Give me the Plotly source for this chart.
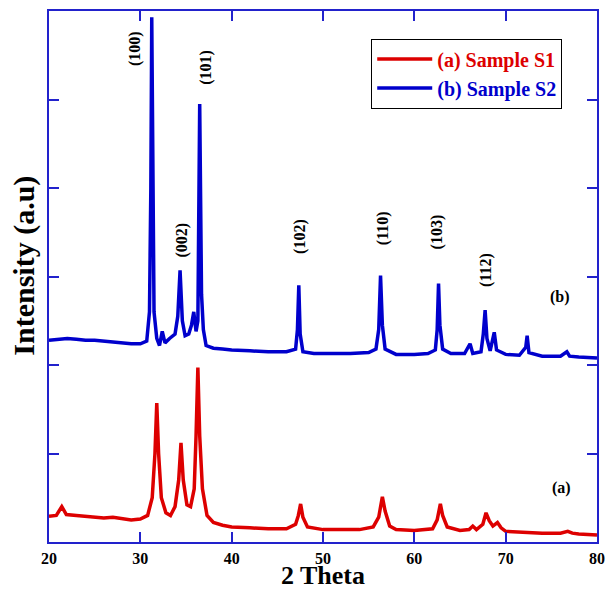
import plotly.graph_objects as go

# Sample S1 (a)
x_a = [20.0, 20.8, 21.4, 21.9, 23, 24, 25, 26, 27, 28, 29, 30, 30.8, 31.3, 31.6, 31.8, 32.0, 32.3, 32.8, 33.3,
       33.8, 34.2, 34.45, 34.7, 35.1, 35.5, 35.9, 36.1, 36.3, 36.5, 36.8, 37.3, 38, 39, 40, 42, 44, 46,
       47.0, 47.3, 47.55, 47.8, 48.3, 50, 52, 54, 55.5, 56.1, 56.5, 56.8, 57.3, 58, 60, 62, 62.5, 62.85,
       63.1, 63.6, 65, 66.0, 66.4, 66.8, 67.5, 67.85, 68.2, 68.6, 69.1, 69.5, 70, 72, 74, 76, 76.8, 77.3, 78, 80]
y_a = [0.29, 0.30, 0.40, 0.31, 0.30, 0.29, 0.28, 0.27, 0.28, 0.26, 0.25, 0.26, 0.30, 0.50, 1.0, 1.57, 1.0, 0.50, 0.33, 0.30,
       0.40, 0.70, 1.12, 0.70, 0.42, 0.40, 0.60, 1.2, 1.97, 1.2, 0.60, 0.30, 0.22, 0.19, 0.17, 0.16, 0.15, 0.15,
       0.20, 0.30, 0.43, 0.28, 0.17, 0.14, 0.14, 0.14, 0.17, 0.28, 0.51, 0.35, 0.18, 0.14, 0.13, 0.15, 0.25, 0.43,
       0.30, 0.17, 0.13, 0.14, 0.18, 0.14, 0.20, 0.33, 0.24, 0.18, 0.22, 0.16, 0.12, 0.11, 0.10, 0.10, 0.12, 0.10, 0.09, 0.08]

# Sample S2 (b)
x_b = [20, 21, 22, 23, 24, 25, 26, 27, 28, 29, 30, 30.7, 31.0, 31.15, 31.25, 31.4, 31.5, 31.8, 32.1, 32.4, 32.7,
       33.2, 33.8, 34.1, 34.35, 34.6, 34.9, 35.3, 35.6, 35.85, 36.1, 36.3, 36.5, 36.7, 36.9, 37.2, 38, 39, 40,
       42, 44, 46, 47.0, 47.2, 47.35, 47.5, 47.8, 49, 51, 53, 55, 55.8, 56.1, 56.3, 56.5, 56.8, 58, 60, 61.5,
       62.3, 62.5, 62.65, 62.8, 63.1, 64, 65.5, 66.1, 66.4, 67.3, 67.55, 67.75, 67.95, 68.3, 68.75, 69.0, 70,
       71.5, 72.2, 72.35, 72.55, 74, 76, 76.7, 77.0, 78, 80]
y_b = [2.28, 2.29, 2.30, 2.29, 2.28, 2.28, 2.27, 2.26, 2.25, 2.24, 2.24, 2.27, 2.60, 4.0, 5.93, 4.0, 2.60, 2.30, 2.22, 2.38, 2.25,
       2.30, 2.35, 2.55, 3.07, 2.50, 2.33, 2.35, 2.45, 2.60, 2.38, 2.50, 4.95, 2.80, 2.40, 2.22, 2.19, 2.18, 2.17,
       2.16, 2.15, 2.15, 2.18, 2.40, 2.90, 2.35, 2.15, 2.13, 2.13, 2.13, 2.14, 2.18, 2.40, 3.01, 2.45, 2.18, 2.12, 2.12, 2.13,
       2.17, 2.40, 2.92, 2.45, 2.18, 2.13, 2.13, 2.24, 2.13, 2.15, 2.35, 2.62, 2.30, 2.16, 2.37, 2.17, 2.12,
       2.11, 2.20, 2.33, 2.14, 2.10, 2.10, 2.15, 2.10, 2.09, 2.08]

# Peak labels
peak_labels = ["(100)", "(002)", "(101)", "(102)", "(110)", "(103)", "(112)"]
peak_x = [29.4, 34.6, 37.2, 47.4, 56.5, 62.5, 67.9]
peak_y = [5.58, 3.41, 5.36, 3.45, 3.55, 3.50, 3.08]

curve_labels = ["(a)", "(b)"]
curve_lx = [76.1, 75.9]
curve_ly = [0.61, 2.77]

RED = "#dd0000"
BLUE = "#0000cc"
FONT = "Liberation Serif"

fig = go.Figure()
fig.add_trace(go.Scatter(x=x_a, y=y_a, mode="lines", line=dict(color=RED, width=3.5),
                         name=f"<b><span style='color:{RED}'>(a) Sample S1</span></b>"))
fig.add_trace(go.Scatter(x=x_b, y=y_b, mode="lines", line=dict(color=BLUE, width=3.5),
                         name=f"<b><span style='color:{BLUE}'>(b) Sample S2</span></b>"))

for t, xx, yy in zip(peak_labels, peak_x, peak_y):
    fig.add_annotation(x=xx, y=yy, text=f"<b>{t}</b>", showarrow=False, textangle=-90,
                       font=dict(family=FONT, size=16, color="black"))
for t, xx, yy in zip(curve_labels, curve_lx, curve_ly):
    fig.add_annotation(x=xx, y=yy, text=f"<b>{t}</b>", showarrow=False,
                       font=dict(family=FONT, size=16, color="black"))

# y-axis title (placed slightly above the plot centre, as in the reference)
fig.add_annotation(xref="paper", yref="paper", x=-0.046, y=0.52, text="<b>Intensity (a.u)</b>",
                   showarrow=False, textangle=-90, xanchor="center", yanchor="middle",
                   font=dict(family=FONT, size=30, color="black"))

axis_common = dict(showline=True, linecolor="#2222cc", linewidth=1.5, mirror="ticks",
                   ticks="inside", tickcolor="#2222cc", ticklen=10, tickwidth=1.5,
                   showgrid=False, zeroline=False, automargin=False)

fig.update_layout(
    width=608, height=590,
    margin=dict(l=49, r=11, t=11, b=48, autoexpand=False),
    plot_bgcolor="white", paper_bgcolor="white",
    font=dict(family=FONT, color="black"),
    xaxis=dict(range=[20, 80], tick0=20, dtick=10,
               tickfont=dict(family=FONT, size=16, weight="bold"), ticklabelstandoff=1,
               title=dict(text="<b>2 Theta</b>", font=dict(family=FONT, size=26)),
               **axis_common),
    yaxis=dict(range=[0, 6], tick0=0, dtick=1, showticklabels=False,
               **axis_common),
    legend=dict(x=0.588, y=0.948, xanchor="left", yanchor="top", bordercolor="black", borderwidth=1,
                bgcolor="white", font=dict(family=FONT, size=20), itemwidth=55,
                tracegroupgap=0),
    showlegend=True,
)

fig.write_html("out.html", config={"displayModeBar": False},
               post_script="document.body.style.margin='0';document.body.style.overflow='hidden';")
